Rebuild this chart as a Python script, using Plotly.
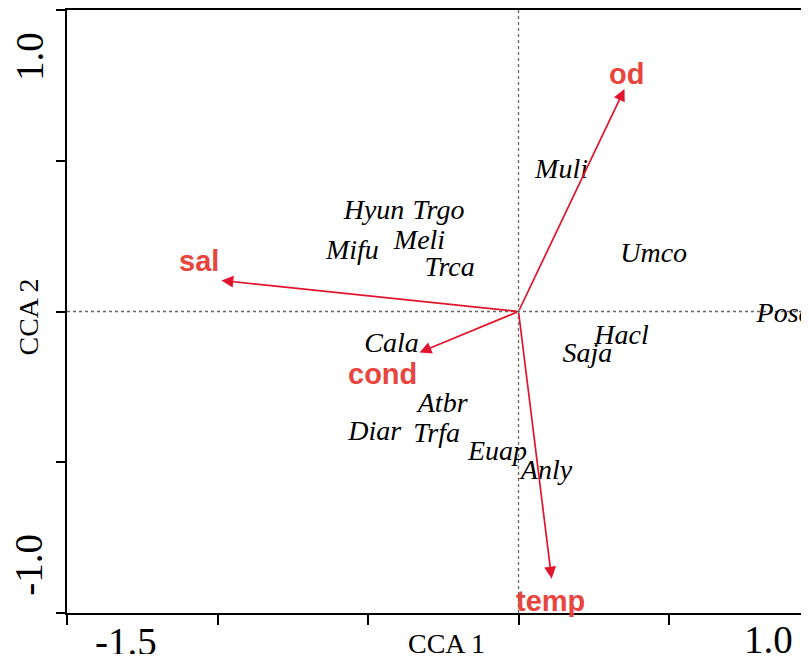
import plotly.graph_objects as go

# species scores (CCA 1, CCA 2)
species = ["Muli", "Hyun", "Trgo", "Meli", "Mifu", "Trca", "Umco", "Posa",
           "Hacl", "Saja", "Cala", "Atbr", "Diar", "Trfa", "Euap", "Anly"]
sp_cca1 = [0.143, -0.480, -0.266, -0.329, -0.552, -0.229, 0.449, 0.884,
           0.342, 0.229, -0.422, -0.252, -0.478, -0.272, -0.070, 0.093]
sp_cca2 = [0.465, 0.329, 0.329, 0.229, 0.199, 0.140, 0.189, -0.010,
           -0.086, -0.143, -0.110, -0.309, -0.402, -0.409, -0.468, -0.532]

# environmental biplot arrows
env = ["od", "sal", "cond", "temp"]
env_cca1 = [0.352, -0.987, -0.329, 0.110]
env_cca2 = [0.738, 0.103, -0.136, -0.886]
# label nudges in pixels (x, y)
env_shift = {"od": (2, 15), "sal": (-22, 19), "cond": (-37, -21), "temp": (-1, -22)}

tick_vals = [-1.5, -1.0, -0.5, 0.0, 0.5, 1.0]

arrow_col = "#E2142D"
label_col = "#E8453F"
serif = "Liberation Serif, Times New Roman, serif"
sans = "Liberation Sans, Arial, sans-serif"

fig = go.Figure()
fig.add_trace(go.Scatter(
    x=sp_cca1, y=sp_cca2, text=species, mode="text",
    textposition="middle center",
    textfont=dict(family=serif, size=28, color="black", style="italic"),
    hoverinfo="text", showlegend=False, cliponaxis=True))

# dotted zero lines
fig.add_shape(type="line", xref="x", yref="paper", x0=0, x1=0, y0=0, y1=1,
              line=dict(color="#666666", width=1.3, dash="dot"), layer="below")
fig.add_shape(type="line", xref="paper", yref="y", x0=0, x1=1, y0=0, y1=0,
              line=dict(color="#666666", width=1.3, dash="dot"), layer="below")

for name, ex, ey in zip(env, env_cca1, env_cca2):
    fig.add_annotation(x=ex, y=ey, ax=0, ay=0, xref="x", yref="y",
                       axref="x", ayref="y", text="", showarrow=True,
                       arrowhead=2, arrowsize=1.4, arrowwidth=1.7,
                       arrowcolor=arrow_col, standoff=0)
    sx, sy = env_shift[name]
    fig.add_annotation(x=ex, y=ey, xref="x", yref="y", text="<b>" + name + "</b>",
                       showarrow=False, xshift=sx, yshift=sy,
                       xanchor="center", yanchor="middle",
                       font=dict(family=sans, size=29, color=label_col))

# axis labels, placed like the original figure
big = dict(family=serif, size=39, color="black")
mid = dict(family=serif, size=28, color="black")
side_labels = [("1.0", 0.922, big), ("-1.0", 0.08, big), ("CCA 2", 0.49, mid)]
for txt, yp, f in side_labels:
    fig.add_annotation(text=txt, xref="paper", yref="paper", x=0, y=yp,
                       xshift=-38, xanchor="center", yanchor="middle",
                       showarrow=False, textangle=-90, font=f)
bottom_labels = [("-1.5", 0.0795, -28, big), ("CCA 1", 0.511, -30, mid),
                 ("1.0", 0.945, -26, big)]
for txt, xp, ys, f in bottom_labels:
    fig.add_annotation(text=txt, xref="paper", yref="paper", x=xp, y=0,
                       yshift=ys, xanchor="center", yanchor="middle",
                       showarrow=False, font=f)

# page body adds an 8px offset; figure sized so the page does not scroll
fig.update_layout(
    width=801, height=646,
    margin=dict(l=59, r=0, t=2, b=41),
    plot_bgcolor="white", paper_bgcolor="white",
    xaxis=dict(range=[-1.5, 0.965], tickvals=tick_vals, showticklabels=False,
               ticks="outside", ticklen=10, tickwidth=1.5, tickcolor="black",
               showline=True, linecolor="black", linewidth=2, mirror=True,
               showgrid=False, zeroline=False, automargin=False),
    yaxis=dict(range=[-1.0, 1.0], tickvals=tick_vals, showticklabels=False,
               ticks="outside", ticklen=9, tickwidth=1.5, tickcolor="black",
               showline=True, linecolor="black", linewidth=2,
               showgrid=False, zeroline=False, automargin=False),
    xaxis2=dict(overlaying="x", matches="x", anchor="y", side="bottom",
                tickvals=tick_vals, showticklabels=False, ticks="inside",
                ticklen=6, tickwidth=1.5, tickcolor="black",
                showline=False, showgrid=False, zeroline=False, automargin=False),
    yaxis2=dict(overlaying="y", matches="y", anchor="x", side="left",
                tickvals=tick_vals, showticklabels=False, ticks="inside",
                ticklen=6, tickwidth=1.5, tickcolor="black",
                showline=False, showgrid=False, zeroline=False, automargin=False),
)

fig.write_html("out.html")
